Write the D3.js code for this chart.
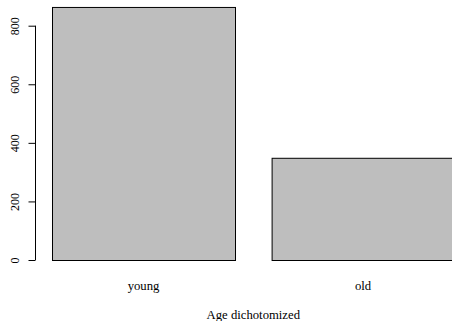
<!DOCTYPE html>
<html><head><meta charset="utf-8">
<script src="https://cdn.jsdelivr.net/npm/d3@7"></script>
<style>body{margin:0;background:#fff}svg{display:block}</style>
</head><body>
<svg id="c" width="452" height="321"></svg>
<script>
const categories = ["young", "old"];
const counts = [864, 349];
const yTicks = [0, 200, 400, 600, 800];
const xTitle = "Age dichotomized";

const svg = d3.select("#c");
const font = "'Liberation Serif','Times New Roman',serif";
// R barplot layout: width 1, space 0.2
const left = 52, unit = 183;
const x = d3.scaleLinear().domain([0.2, 1.2]).range([left, left + unit]);
const y = d3.scaleLinear().domain([0, 800]).range([260, 25.7]);

const bars = categories.map((c, i) => ({c, v: counts[i], l: 0.2 + i * 1.2, r: 1.2 + i * 1.2}));

svg.selectAll("rect.bar").data(bars).enter().append("rect")
  .attr("x", d => x(d.l) + 0.5)
  .attr("y", d => y(d.v) + 0.5)
  .attr("width", d => x(d.r) - x(d.l))
  .attr("height", d => y(0) - y(d.v))
  .attr("fill", "#bebebe").attr("stroke", "#000").attr("stroke-width", 1);

const axis = d3.axisLeft(y).tickValues(yTicks).tickSize(7).tickPadding(0).tickFormat(d3.format("d"));
const g = svg.append("g").attr("transform", "translate(35.5,0)").call(axis);
g.select(".domain").attr("d", `M0,${y(0)}V${y(800)}`).attr("stroke", "#000");
g.selectAll(".tick line").attr("stroke", "#000");
g.selectAll(".tick text").remove();
g.selectAll(".tick").append("text")
  .attr("transform", "translate(-17,0) rotate(-90)")
  .attr("text-anchor", "middle").attr("fill", "#000")
  .attr("font-family", font).attr("font-size", 12)
  .text(d => d);

svg.selectAll("text.cat").data(bars).enter().append("text")
  .attr("x", d => x((d.l + d.r) / 2)).attr("y", 290)
  .attr("text-anchor", "middle").attr("font-family", font).attr("font-size", 12.7)
  .text(d => d.c);

svg.append("text").attr("x", x(1.3)).attr("y", 319)
  .attr("text-anchor", "middle").attr("font-family", font).attr("font-size", 12.7)
  .text(xTitle);
</script>
</body></html>
